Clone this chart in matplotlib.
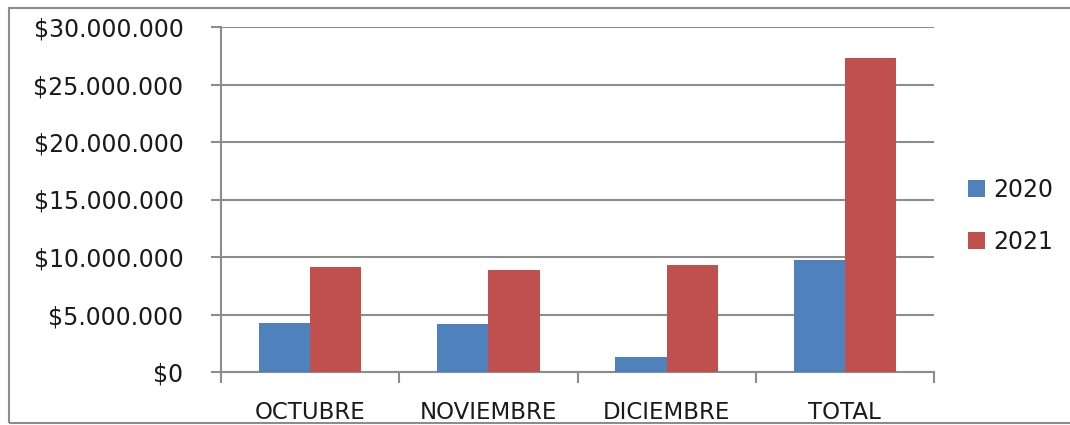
import matplotlib.pyplot as plt
import numpy as np
from matplotlib.patches import Rectangle
from matplotlib.ticker import FuncFormatter

CATEGORIES = ["OCTUBRE", "NOVIEMBRE", "DICIEMBRE", "TOTAL"]
SERIES = ["2020", "2021"]
VALUES_2020 = [4_230_000, 4_200_000, 1_280_000, 9_770_000]
VALUES_2021 = [9_130_000, 8_870_000, 9_300_000, 27_330_000]
Y_TICKS = [0, 5_000_000, 10_000_000, 15_000_000, 20_000_000, 25_000_000, 30_000_000]

BLUE = "#4F81BD"
RED = "#C0504D"
GRID = "#8c8c8c"
TEXT = "#1a1a1a"

plt.rcParams.update({
    "font.family": ["DejaVu Sans"],
    "font.size": 17,
})


def money(v, _pos=None):
    return "$" + f"{int(round(v)):,}".replace(",", ".")


fig = plt.figure(figsize=(10.7, 4.25), dpi=100)
ax = fig.add_axes([221 / 1070, 1 - 372 / 425, (934 - 221) / 1070, (372 - 27) / 425])

x = np.arange(len(CATEGORIES))
bar_w = 0.287
ax.bar(x - bar_w / 2, VALUES_2020, bar_w, color=BLUE, label=SERIES[0], zorder=3)
ax.bar(x + bar_w / 2, VALUES_2021, bar_w, color=RED, label=SERIES[1], zorder=3)

ax.set_xlim(-0.5, len(CATEGORIES) - 0.5)
ax.set_ylim(0, Y_TICKS[-1])
ax.set_yticks(Y_TICKS)
ax.yaxis.set_major_formatter(FuncFormatter(money))
ax.set_xticks(x)
ax.set_xticklabels(CATEGORIES)
ax.set_xticks(np.arange(len(CATEGORIES) + 1) - 0.5, minor=True)

ax.tick_params(axis="x", which="major", length=0, pad=21, labelsize=16.5, labelcolor=TEXT)
ax.tick_params(axis="x", which="minor", length=8, width=1.5, color=GRID, direction="out")
ax.tick_params(axis="y", length=7, width=1.5, color=GRID, pad=20, labelsize=17, labelcolor=TEXT)

ax.grid(axis="y", color=GRID, linewidth=1.5, zorder=0)
for side in ("top", "right"):
    ax.spines[side].set_visible(False)
for side in ("left", "bottom"):
    ax.spines[side].set_color(GRID)
    ax.spines[side].set_linewidth(1.5)

leg = ax.legend(loc="center left", bbox_to_anchor=(968 / 1070, 1 - 216 / 425),
                bbox_transform=fig.transFigure, frameon=False, borderpad=0,
                borderaxespad=0, fontsize=17, handlelength=0.72, handleheight=0.72,
                handletextpad=0.34, labelspacing=1.2)
for t in leg.get_texts():
    t.set_color(TEXT)

fig.patches.append(Rectangle((9 / 1070, 2 / 425), 1.0, 1 - 10 / 425,
                             transform=fig.transFigure, fill=False,
                             edgecolor=GRID, linewidth=1.5))

fig.savefig("out.png", dpi=100)
